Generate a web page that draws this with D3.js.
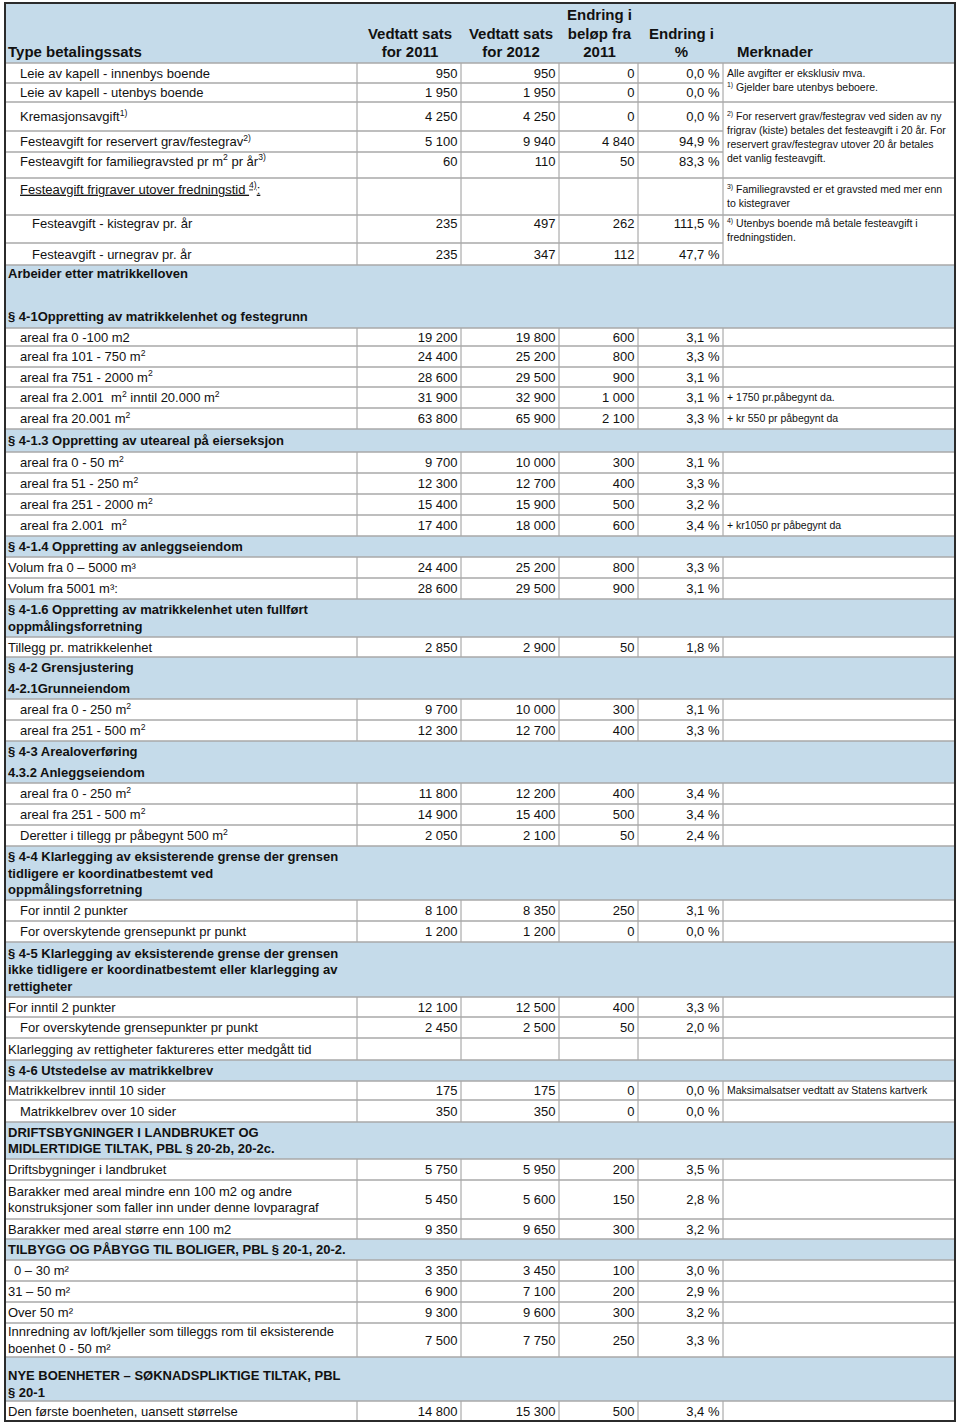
<!DOCTYPE html>
<html><head><meta charset="utf-8">
<script src="https://cdn.jsdelivr.net/npm/d3@7"></script>
<style>
body{margin:0;background:#fff}
svg{display:block}
text{font-family:"Liberation Sans",Arial,Helvetica,sans-serif;fill:#111;white-space:pre}
</style>
</head><body><div id="chart"></div>
<script>
// ---------------- DATA ----------------
const columnHeaders = [
  ["Type betalingssats"],
  ["Vedtatt sats","for 2011"],
  ["Vedtatt sats","for 2012"],
  ["Endring i","beløp fra","2011"],
  ["Endring i","%"],
  ["Merknader"]
];

// h = section (blue) row, d = data row
const rowKinds = ["d","d","d","d","d","d","d","d","h","h",
  "d","d","d","d","d","h","d","d","d","d",
  "h","d","d","h","d","h","h","d","d","h",
  "h","d","d","d","h","d","d","h","d","d",
  "d","h","d","d","h","d","d","d","h","d",
  "d","d","d","h","d"];

const rowLabels = [
  ["Leie av kapell - innenbys boende"],
  ["Leie av kapell - utenbys boende"],
  ["Kremasjonsavgift^{1)}"],
  ["Festeavgift for reservert grav/festegrav^{2)}"],
  ["Festeavgift for familiegravsted pr m^{2} pr år^{3)}"],
  ["Festeavgift frigraver utover fredningstid ^{4)}:"],
  ["Festeavgift - kistegrav pr. år"],
  ["Festeavgift - urnegrav pr. år"],
  ["Arbeider etter matrikkelloven"],
  ["§ 4-1Oppretting av matrikkelenhet og festegrunn"],
  ["areal fra 0 -100 m2"],
  ["areal fra 101 - 750 m^{2}"],
  ["areal fra 751 - 2000 m^{2}"],
  ["areal fra 2.001  m^{2} inntil 20.000 m^{2}"],
  ["areal fra 20.001 m^{2}"],
  ["§ 4-1.3 Oppretting av uteareal på eierseksjon"],
  ["areal fra 0 - 50 m^{2}"],
  ["areal fra 51 - 250 m^{2}"],
  ["areal fra 251 - 2000 m^{2}"],
  ["areal fra 2.001  m^{2}"],
  ["§ 4-1.4 Oppretting av anleggseiendom"],
  ["Volum fra 0 – 5000 m³"],
  ["Volum fra 5001 m³:"],
  ["§ 4-1.6 Oppretting av matrikkelenhet uten fullført","oppmålingsforretning"],
  ["Tillegg pr. matrikkelenhet"],
  ["§ 4-2 Grensjustering"],
  ["4-2.1Grunneiendom"],
  ["areal fra 0 - 250 m^{2}"],
  ["areal fra 251 - 500 m^{2}"],
  ["§ 4-3 Arealoverføring"],
  ["4.3.2 Anleggseiendom"],
  ["areal fra 0 - 250 m^{2}"],
  ["areal fra 251 - 500 m^{2}"],
  ["Deretter i tillegg pr påbegynt 500 m^{2}"],
  ["§ 4-4 Klarlegging av eksisterende grense der grensen","tidligere er koordinatbestemt ved","oppmålingsforretning"],
  ["For inntil 2 punkter"],
  ["For overskytende grensepunkt pr punkt"],
  ["§ 4-5 Klarlegging av eksisterende grense der grensen","ikke tidligere er koordinatbestemt eller klarlegging av","rettigheter"],
  ["For inntil 2 punkter"],
  ["For overskytende grensepunkter pr punkt"],
  ["Klarlegging av rettigheter faktureres etter medgått tid"],
  ["§ 4-6 Utstedelse av matrikkelbrev"],
  ["Matrikkelbrev inntil 10 sider"],
  ["Matrikkelbrev over 10 sider"],
  ["DRIFTSBYGNINGER I LANDBRUKET OG","MIDLERTIDIGE TILTAK, PBL § 20-2b, 20-2c."],
  ["Driftsbygninger i landbruket"],
  ["Barakker med areal mindre enn 100 m2 og andre","konstruksjoner som faller inn under denne lovparagraf"],
  ["Barakker med areal større enn 100 m2"],
  ["TILBYGG OG PÅBYGG TIL BOLIGER, PBL § 20-1, 20-2."],
  ["0 – 30 m²"],
  ["31 – 50 m²"],
  ["Over 50 m²"],
  ["Innredning av loft/kjeller som tilleggs rom til eksisterende","boenhet 0 - 50 m²"],
  ["NYE BOENHETER – SØKNADSPLIKTIGE TILTAK, PBL","§ 20-1"],
  ["Den første boenheten, uansett størrelse"]
];

const N = null;
const sats2011 = [950,1950,4250,5100,60,N,235,235,N,N,
  19200,24400,28600,31900,63800,N,9700,12300,15400,17400,
  N,24400,28600,N,2850,N,N,9700,12300,N,
  N,11800,14900,2050,N,8100,1200,N,12100,2450,
  N,N,175,350,N,5750,5450,9350,N,3350,
  6900,9300,7500,N,14800];
const sats2012 = [950,1950,4250,9940,110,N,497,347,N,N,
  19800,25200,29500,32900,65900,N,10000,12700,15900,18000,
  N,25200,29500,N,2900,N,N,10000,12700,N,
  N,12200,15400,2100,N,8350,1200,N,12500,2500,
  N,N,175,350,N,5950,5600,9650,N,3450,
  7100,9600,7750,N,15300];
const endringBelop = [0,0,0,4840,50,N,262,112,N,N,
  600,800,900,1000,2100,N,300,400,500,600,
  N,800,900,N,50,N,N,300,400,N,
  N,400,500,50,N,250,0,N,400,50,
  N,N,0,0,N,200,150,300,N,100,
  200,300,250,N,500];
const endringProsent = [0.0,0.0,0.0,94.9,83.3,N,111.5,47.7,N,N,
  3.1,3.3,3.1,3.1,3.3,N,3.1,3.3,3.2,3.4,
  N,3.3,3.1,N,1.8,N,N,3.1,3.3,N,
  N,3.4,3.4,2.4,N,3.1,0.0,N,3.3,2.0,
  N,N,0.0,0.0,N,3.5,2.8,3.2,N,3.0,
  2.9,3.2,3.3,N,3.4];

// Merknader: first row, last row, text lines
const noteFirstRow = [0, 2, 5, 6, 13, 14, 19, 42];
const noteLastRow  = [1, 4, 5, 7, 13, 14, 19, 42];
const noteLines = [
  ["Alle avgifter er eksklusiv mva.", "^{1)} Gjelder bare utenbys beboere."],
  ["^{2)} For reservert grav/festegrav ved siden av ny", "frigrav (kiste) betales det festeavgift i 20 år. For", "reservert grav/festegrav utover 20 år betales", "det vanlig festeavgift."],
  ["^{3)} Familiegravsted er et gravsted med mer enn", "to kistegraver"],
  ["^{4)} Utenbys boende må betale festeavgift i", "fredningstiden."],
  ["+ 1750 pr.påbegynt da."],
  ["+ kr 550 pr påbegynt da"],
  ["+ kr1050 pr påbegynt da"],
  ["Maksimalsatser vedtatt av Statens kartverk"]
];

// ---------------- LAYOUT ----------------
const W = 960, H = 1423;
const tableTop = 3, headerBottom = 63;
const colEdges = [5, 357, 461, 559, 638, 723, 955];
const rowHeights = [20,19,29,21,26,37,28,22,40,23,
  18,21,20,21,21,23,21,21,21,21,
  21,21,21,38,20,21,21,21,21,21,
  21,21,21,21,54,21,21,55,20,21,
  22,21,19,22,37,21,39,20,21,21,
  21,21,34,44,20];
const indentLevel = [1,1,1,1,1,1,2,2,0,0,
  1,1,1,1,1,0,1,1,1,1,
  0,0,0,0,0,0,0,1,1,0,
  0,1,1,1,0,1,1,0,0,1,
  0,0,0,1,0,0,0,0,0,0.5,
  0,0,0,0,0];
const indentPx = lvl => 8 + lvl * 12;
const topAligned = {4: 9, 5: 11, 6: 8, 8: 8};
const bottomAligned = {53: 9};
const underlinedRows = [5];
const lineH = 16.5, noteLineH = 14;
const BLUE = "#c5dbea", GRID = "#a9a9a9", VGRID = "#9a9a9a";

const FS = 13, FS_HEAD = 15, FS_NOTE = 10.5;

const loc = d3.formatLocale({decimal: ",", thousands: " ", grouping: [3], currency: ["", ""]});
const fInt = loc.format(",d");
const fPct = v => loc.format(",.1f")(v) + " %";

const rowTops = [headerBottom, ...d3.cumsum(rowHeights).map(c => headerBottom + c)];
const yTop = d3.scaleOrdinal().domain(d3.range(rowKinds.length)).range(rowTops.slice(0, -1));
const yBot = d3.scaleOrdinal().domain(d3.range(rowKinds.length)).range(rowTops.slice(1));
const colLeft = d3.scaleOrdinal().domain(d3.range(6)).range(colEdges.slice(0, -1));
const colRight = d3.scaleOrdinal().domain(d3.range(6)).range(colEdges.slice(1));

const svg = d3.select("#chart").append("svg").attr("width", W).attr("height", H);

function rich(sel, str, fs) {
  const parts = str.split(/(\^\{[^}]*\})/).filter(s => s.length);
  let raised = false;
  const lift = fs * 0.4;
  parts.forEach(p => {
    if (p.startsWith("^{")) {
      sel.append("tspan").attr("font-size", fs * 0.66).attr("dy", -lift).text(p.slice(2, -1));
      raised = true;
    } else {
      const t = sel.append("tspan").text(p);
      if (raised) { t.attr("dy", lift); raised = false; }
    }
  });
}

// text centre line for a row (first line), given number of lines
function firstLineCenter(i, nLines) {
  const t = yTop(i), b = yBot(i);
  if (topAligned[i] !== undefined) return t + topAligned[i];
  if (bottomAligned[i] !== undefined) return b - bottomAligned[i] - (nLines - 1) * lineH;
  return (t + b) / 2 - (nLines - 1) * lineH / 2;
}

// backgrounds
svg.append("rect").attr("x", colEdges[0]).attr("y", tableTop)
  .attr("width", colEdges[6] - colEdges[0]).attr("height", headerBottom - tableTop).attr("fill", BLUE);
svg.append("g").selectAll("rect").data(d3.range(rowKinds.length).filter(i => rowKinds[i] === "h"))
  .join("rect")
  .attr("x", colEdges[0]).attr("y", i => yTop(i))
  .attr("width", colEdges[6] - colEdges[0]).attr("height", i => yBot(i) - yTop(i))
  .attr("fill", BLUE);

// vertical grid lines in data rows
const dataRows = d3.range(rowKinds.length).filter(i => rowKinds[i] === "d");
const vg = svg.append("g").attr("stroke", VGRID).attr("stroke-width", 1);
dataRows.forEach(i => {
  [1, 2, 3, 4, 5].forEach(c => {
    vg.append("line").attr("x1", colLeft(c)).attr("x2", colLeft(c))
      .attr("y1", yTop(i)).attr("y2", yBot(i));
  });
});

// horizontal grid lines
function insideNote(boundaryAfterRow) {
  for (let k = 0; k < noteFirstRow.length; k++) {
    if (noteFirstRow[k] <= boundaryAfterRow && boundaryAfterRow < noteLastRow[k]) return true;
  }
  return false;
}
const hg = svg.append("g").attr("stroke", GRID).attr("stroke-width", 1.6);
const drawn = new Set();
dataRows.forEach(i => {
  [[yTop(i), i - 1], [yBot(i), i]].forEach(([y, after]) => {
    if (drawn.has(y)) return;
    drawn.add(y);
    const xEnd = insideNote(after) ? colEdges[5] : colEdges[6];
    hg.append("line").attr("x1", colEdges[0]).attr("x2", xEnd).attr("y1", y).attr("y2", y);
  });
});

// header text
const hdr = svg.append("g").attr("font-weight", "bold").attr("font-size", FS_HEAD);
columnHeaders.forEach((lines, c) => {
  lines.forEach((ln, k) => {
    const baseline = 57 - (lines.length - 1 - k) * 18.5;
    let x, anchor;
    if (c === 0) { x = 8; anchor = "start"; }
    else if (c === 5) { x = 737; anchor = "start"; }
    else { x = (colLeft(c) + colRight(c)) / 2 + 1; anchor = "middle"; }
    hdr.append("text").attr("x", x).attr("y", baseline).attr("text-anchor", anchor).text(ln);
  });
});

// row labels
const lbl = svg.append("g").attr("font-size", FS);
rowLabels.forEach((lines, i) => {
  const c0 = firstLineCenter(i, lines.length);
  lines.forEach((ln, k) => {
    const t = lbl.append("text")
      .attr("x", indentPx(indentLevel[i]))
      .attr("y", c0 + k * lineH + FS * 0.36)
      .attr("font-weight", rowKinds[i] === "h" ? "bold" : null);
    if (underlinedRows.includes(i)) t.style("text-decoration", "underline");
    rich(t, ln, FS);
  });
});

// numeric cells
const valueCols = [sats2011, sats2012, endringBelop, endringProsent];
const nums = svg.append("g").attr("font-size", FS).attr("text-anchor", "end");
valueCols.forEach((arr, ci) => {
  const c = ci + 1;
  nums.selectAll(null).data(d3.range(arr.length).filter(i => arr[i] !== null))
    .join("text")
    .attr("x", i => colRight(c) - 3.5)
    .attr("y", i => {
      const n = rowLabels[i].length;
      const c0 = firstLineCenter(i, n);
      return c0 + (n - 1) * lineH / 2 + FS * 0.36;
    })
    .text(i => c === 4 ? fPct(arr[i]) : fInt(arr[i]));
});

// notes
const nt = svg.append("g").attr("font-size", FS_NOTE).style("fill", "#1a1a1a");
noteLines.forEach((lines, k) => {
  const r = noteFirstRow[k];
  const c0 = firstLineCenter(r, rowLabels[r].length);
  lines.forEach((ln, j) => {
    const t = nt.append("text").attr("x", 727).attr("y", c0 + j * noteLineH + FS_NOTE * 0.36);
    rich(t, ln, FS_NOTE);
  });
});

// outer border
svg.append("rect").attr("x", colEdges[0]).attr("y", tableTop)
  .attr("width", colEdges[6] - colEdges[0]).attr("height", rowTops[rowTops.length - 1] - tableTop)
  .attr("fill", "none").attr("stroke", "#2b2b2b").attr("stroke-width", 2);
</script>
</body></html>
